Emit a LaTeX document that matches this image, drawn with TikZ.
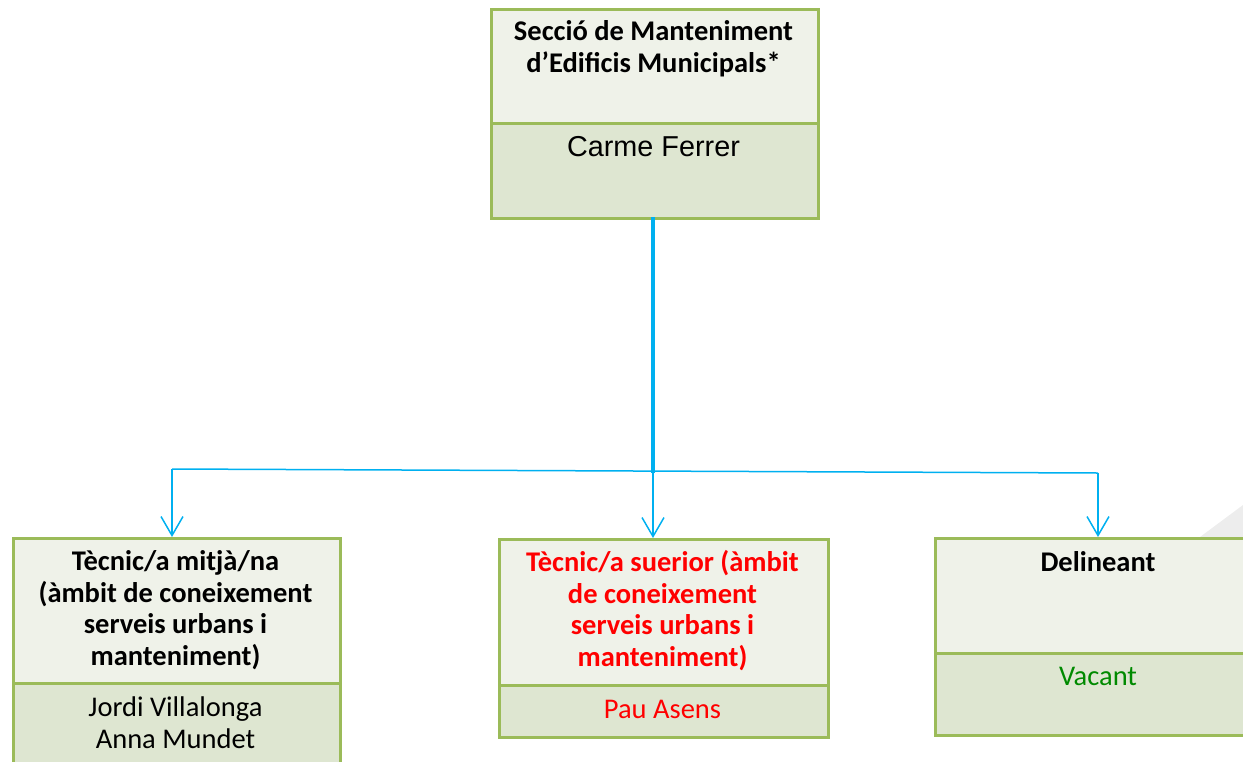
\documentclass[tikz,border=0pt]{standalone}
\usepackage{fontspec}
\setmainfont{Carlito}
\newfontfamily\arialf{Liberation Sans}
\usetikzlibrary{arrows.meta}
\definecolor{bordergreen}{HTML}{9BBB59}
\definecolor{lightfill}{HTML}{EFF2E9}
\definecolor{darkfill}{HTML}{DEE6D1}
\definecolor{linkblue}{HTML}{00B0F0}
\definecolor{vacgreen}{HTML}{008A00}
\definecolor{shadegrey}{HTML}{EDEDED}
\tikzset{
  upperbox/.style={draw=bordergreen, fill=lightfill, line width=3pt, anchor=north west, inner sep=0pt},
  lowerbox/.style={draw=bordergreen, fill=darkfill, line width=3pt, anchor=north west, inner sep=0pt},
  titletext/.style={font=\bfseries\fontsize{28.5}{31.5}\selectfont, align=center, anchor=base, inner sep=0pt},
  nametext/.style={font=\fontsize{28.5}{31.5}\selectfont, align=center, anchor=base, inner sep=0pt},
  linkline/.style={draw=linkblue, line width=1.5pt},
  arrowlink/.style={linkline, -{Straight Barb[length=19pt,width=22pt,line width=1.5pt]}},
}
\begin{document}
\begin{tikzpicture}[x=1pt,y=-1pt]
\useasboundingbox (0,0) rectangle (1243,761);
\begin{scope}
\clip (0,0) rectangle (1243,761);
\fill[shadegrey] (1200,537) -- (1243,505) -- (1243,537) -- cycle;
% top box
\node[upperbox, minimum width=327pt, minimum height=114pt] (topU) at (490,8) {};
\node[lowerbox, minimum width=327pt, minimum height=95pt] (topL) at (490,122) {};
\node[titletext] (topT) at (653.5,72) {Secció de Manteniment\\d’Edificis Municipals*};
\node[font=\arialf\fontsize{28.8}{31}\selectfont, anchor=base, inner sep=0pt] (topN) at (653.5,156.7) {Carme Ferrer};
% left box
\node[upperbox, minimum width=327pt, minimum height=145pt] (lU) at (12,537) {};
\node[lowerbox, minimum width=327pt, minimum height=100pt] (lL) at (12,682) {};
\node[titletext] (lT) at (175.5,665) {Tècnic/a mitjà/na\\(àmbit de coneixement\\serveis urbans i\\manteniment)};
\node[nametext] (lN) at (175.5,748) {Jordi Villalonga\\Anna Mundet};
% middle box
\node[upperbox, minimum width=329pt, minimum height=146pt] (mU) at (498,538) {};
\node[lowerbox, minimum width=329pt, minimum height=52pt] (mL) at (498,684) {};
\node[titletext, text=red] (mT) at (662.5,666) {Tècnic/a suerior (àmbit\\de coneixement\\serveis urbans i\\manteniment)};
\node[nametext, text=red] (mN) at (662.5,718) {Pau Asens};
% right box
\node[upperbox, minimum width=328pt, minimum height=115pt] (rU) at (934,537) {};
\node[lowerbox, minimum width=328pt, minimum height=82pt] (rL) at (934,652) {};
\node[titletext] (rT) at (1098,571) {Delineant};
\node[nametext, text=vacgreen] (rN) at (1098,685) {Vacant};
\end{scope}
% connectors
\coordinate (hub) at (653,470);
\coordinate (hl) at (172,469);
\coordinate (hr) at (1098,473);
\draw[draw=linkblue, line width=3.5pt] ([yshift=3pt]topL.south -| hub) -- ([yshift=-3pt]hub);
\draw[linkline] (hl) -- (hr);
\draw[arrowlink] (hl) -- (hl |- lU.north);
\draw[arrowlink] (hub) -- (hub |- mU.north);
\draw[arrowlink] (hr) -- (hr |- rU.north);
\end{tikzpicture}
\end{document}
